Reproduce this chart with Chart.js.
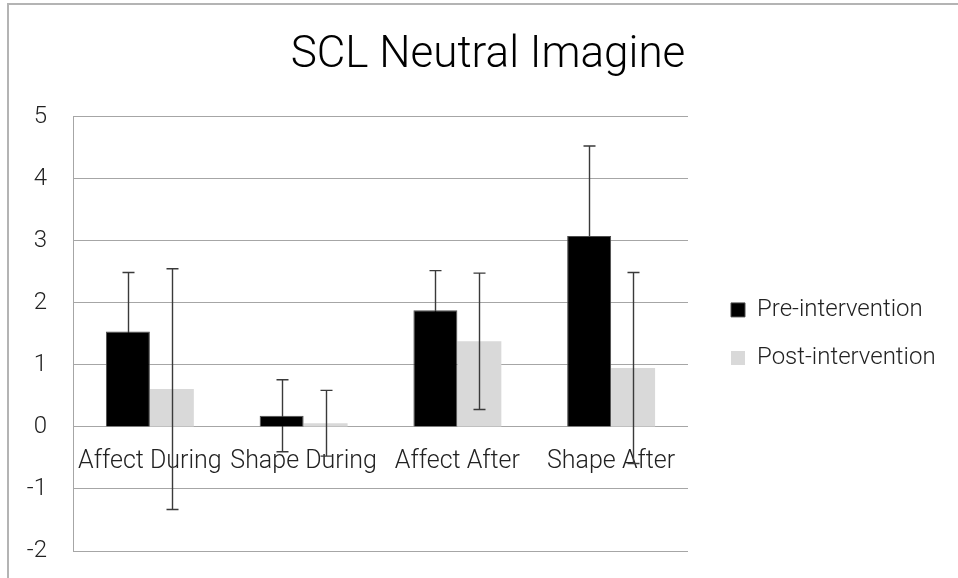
<!DOCTYPE html>
<html>
<head>
<meta charset="utf-8">
<title>SCL Neutral Imagine</title>
<script src="https://cdn.jsdelivr.net/npm/chart.js@4.4.1/dist/chart.umd.min.js"></script>
<style>
  body { margin: 0; background: #fff; }
  #wrap { position: relative; width: 958px; height: 578px; overflow: hidden; }
  #frame { position: absolute; left: 7px; top: 3px; right: -10px; bottom: -10px;
           border-left: 2px solid #b4b4b4; border-top: 2px solid #b4b4b4; }
  #mycanvas { position: absolute; left: 0; top: 0; }
</style>
</head>
<body>
<div id="wrap">
  <div id="frame"></div>
  <canvas id="mycanvas" width="958" height="578"></canvas>
</div>
<script>
var categories = ['Affect During', 'Shape During', 'Affect After', 'Shape After'];
var preValues = [1.54, 0.18, 1.88, 3.08];
var preErrors = [0.95, 0.58, 0.64, 1.45];
var postValues = [0.61, 0.06, 1.38, 0.95];
var postErrors = [1.94, 0.53, 1.10, 1.54];
var yTicks = [-2, -1, 0, 1, 2, 3, 4, 5];

var FONT = "Roboto, 'Liberation Sans', sans-serif";

function drawWhiskers(chart, i)
{
  var ctx = chart.ctx;
  var y = chart.scales.y;
  var ds = chart.data.datasets[i];
  var meta = chart.getDatasetMeta(i);
  ctx.save();
  ctx.strokeStyle = '#3a3a3a';
  ctx.lineWidth = 1.4;
  meta.data.forEach(function(bar, j)
  {
    var v = ds.data[j], e = ds.errors[j];
    var top = y.getPixelForValue(v + e);
    var bot = y.getPixelForValue(v - e);
    var x = Math.round(bar.x) + 0.5;
    ctx.beginPath();
    ctx.moveTo(x, top); ctx.lineTo(x, bot);
    ctx.moveTo(x - 6, top); ctx.lineTo(x + 6, top);
    ctx.moveTo(x - 6, bot); ctx.lineTo(x + 6, bot);
    ctx.stroke();
  });
  ctx.restore();
}

// pre whiskers sit behind the black bars, post whiskers on top of the grey ones
var errorBars = {
  id: 'errorBars',
  beforeDatasetsDraw: function(chart) { drawWhiskers(chart, 0); },
  afterDatasetsDraw: function(chart) { drawWhiskers(chart, 1); }
};

// legend sits a bit away from the plot and is centred on the plot area,
// title is centred over the whole frame
var boxShift = {
  id: 'boxShift',
  afterLayout: function(chart)
  {
    var lg = chart.legend, area = chart.chartArea;
    lg.left += 19;
    lg.right += 19;
    lg.top = area.top;
    lg.bottom = area.bottom;
    chart.titleBlock.left += 29;
    chart.titleBlock.right += 29;
  }
};

var chartdata = {
  labels: categories,
  datasets: [
    {
      label: 'Pre-intervention',
      backgroundColor: '#000000',
      borderColor: '#4d4d4d',
      borderWidth: 1,
      data: preValues,
      errors: preErrors
    },
    {
      label: 'Post-intervention',
      backgroundColor: '#d9d9d9',
      borderWidth: 0,
      data: postValues,
      errors: postErrors
    }
  ]
};

var ctx = document.getElementById('mycanvas');

var barGraph = new Chart(ctx,
{
  type: 'bar',
  data: chartdata,
  plugins: [errorBars, boxShift],
  options: {
    responsive: false,
    animation: false,
    layout: { padding: { left: 1, right: 41, top: 0, bottom: 27 } },
    datasets: { bar: { categoryPercentage: 0.572, barPercentage: 1.0 } },
    plugins: {
      title: {
        display: true,
        text: 'SCL Neutral Imagine',
        color: '#000',
        font: { family: FONT, size: 44, weight: '300', lineHeight: 1.2 },
        padding: { top: 30, bottom: 34 }
      },
      legend: {
        position: 'right',
        maxWidth: 229,
        labels: {
          boxWidth: 14,
          boxHeight: 14,
          padding: 24,
          color: '#222',
          font: { family: FONT, size: 24, weight: '300' }
        }
      },
      tooltip: { enabled: false }
    },
    scales: {
      x: {
        position: { y: 0 },
        afterFit: function(scale)
        {
          scale.height = 0;
          scale.paddingLeft = 0;
          scale.paddingRight = 0;
        },
        grid: { display: false, drawTicks: false },
        border: { display: false },
        ticks: {
          color: '#222',
          padding: 20,
          maxRotation: 0,
          autoSkip: false,
          font: { family: FONT, size: 25, weight: '300' }
        }
      },
      y: {
        min: -2,
        max: 5,
        afterBuildTicks: function(scale)
        {
          scale.ticks = yTicks.map(function(v) { return { value: v }; });
        },
        afterFit: function(scale)
        {
          scale.width = 72;
          scale.paddingTop = 0;
          scale.paddingBottom = 0;
        },
        grid: { color: '#a6a6a6', lineWidth: 1, drawTicks: false },
        border: { color: '#a6a6a6', width: 1 },
        ticks: {
          color: '#222',
          padding: 26,
          font: { family: FONT, size: 24, weight: '300' }
        }
      }
    }
  }
});
</script>
</body>
</html>
